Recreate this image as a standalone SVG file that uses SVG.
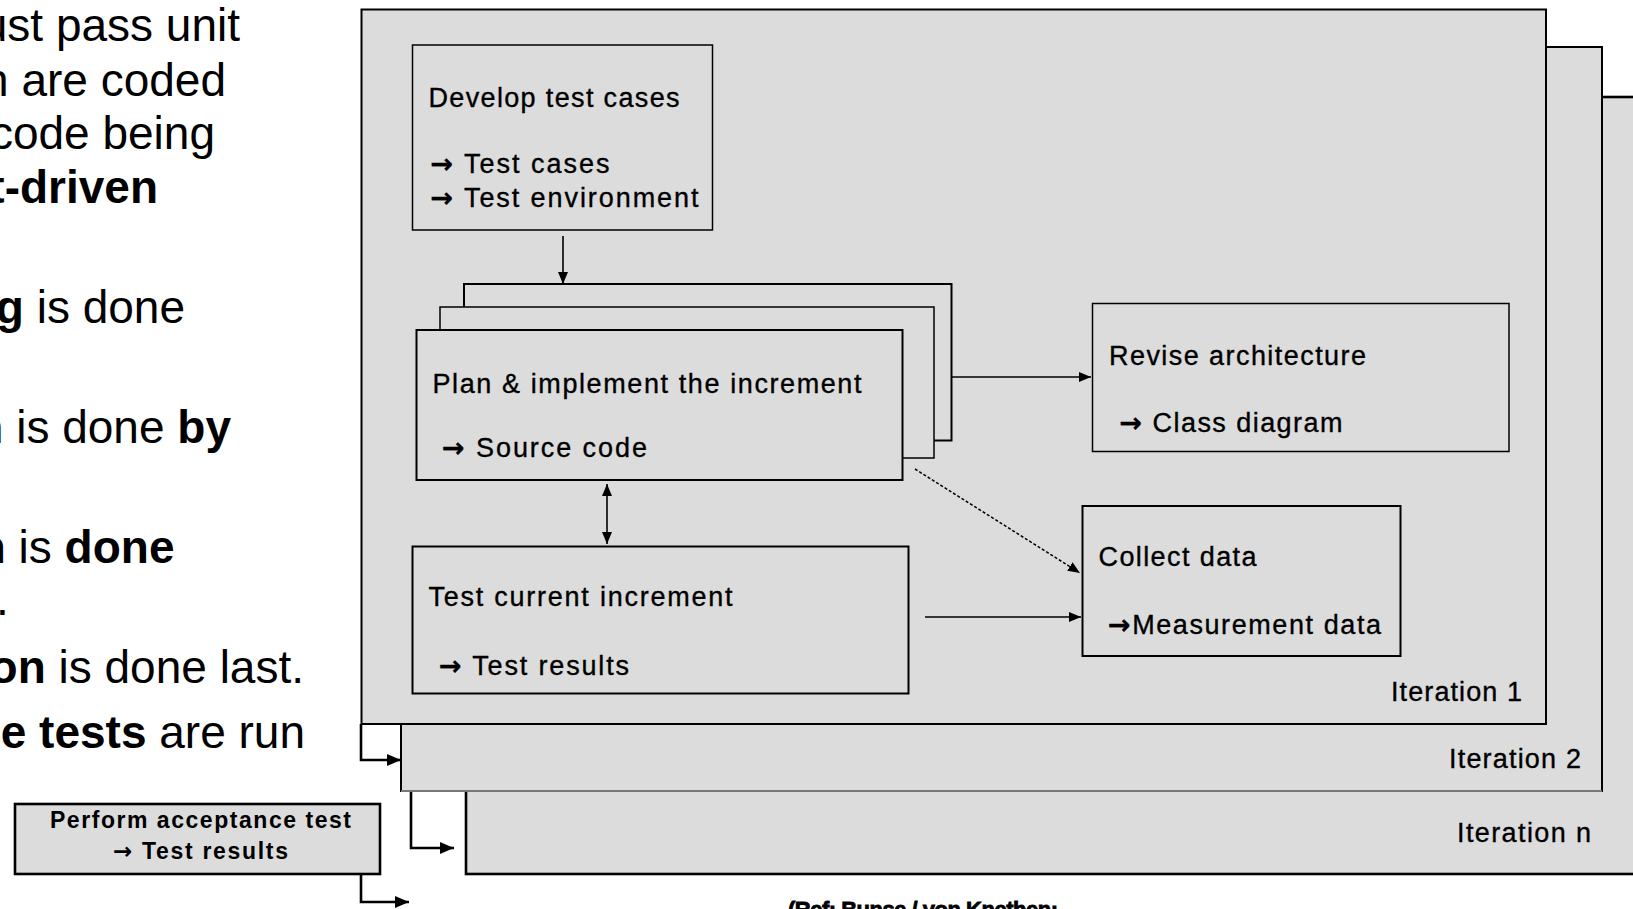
<svg xmlns="http://www.w3.org/2000/svg" width="1633" height="909" viewBox="0 0 1633 909">
  <defs>
    <style>
      .box{fill:#dcdcdc;stroke:#000;stroke-width:2}
      .thin{stroke-width:1.5}
      .lbl{font-family:"Liberation Sans",Arial,"DejaVu Sans",sans-serif;font-size:27px;fill:#000;stroke:#000;stroke-width:0.35}
      .lblb{font-family:"Liberation Sans",Arial,"DejaVu Sans",sans-serif;font-size:23px;font-weight:bold;fill:#000}
      .arw{font-family:"DejaVu Sans",sans-serif;font-weight:bold}
      .bul{font-family:"Liberation Sans",Arial,sans-serif;font-size:46px;fill:#000}
      .b{font-weight:bold}
      .ln{fill:none;stroke:#000;stroke-width:1.6}
      .dot{fill:none;stroke:#000;stroke-width:1.5;stroke-dasharray:3 2}
      .lnk{fill:none;stroke:#000;stroke-width:2.6}
    </style>
    <marker id="ah" markerUnits="userSpaceOnUse" viewBox="0 0 12 10" markerWidth="12" markerHeight="10" refX="12" refY="5" orient="auto-start-reverse">
      <path d="M0,0 L12,5 L0,10 z" fill="#000"/>
    </marker>
    <marker id="ahk" markerUnits="userSpaceOnUse" viewBox="0 0 14 12" markerWidth="14" markerHeight="12" refX="14" refY="6" orient="auto">
      <path d="M0,0 L14,6 L0,12 z" fill="#000"/>
    </marker>
  </defs>

  <rect width="1633" height="909" fill="#fff"/>

  <!-- bullet text, running in from the left edge -->
  <g id="bullets" class="bul" text-anchor="end">
    <text x="240" y="41">ust pass unit</text>
    <text x="226" y="96">n are coded</text>
    <text x="215" y="149">code being</text>
    <text x="158" y="203" class="b">t-driven</text>
    <text x="185" y="323"><tspan class="b">g</tspan> is done</text>
    <text x="231" y="443"><tspan class="b">n</tspan> is done <tspan class="b">by</tspan></text>
    <text x="174.5" y="563"><tspan class="b">n</tspan> is <tspan class="b">done</tspan></text>
    <text x="-4" y="615" text-anchor="start">.</text>
    <text x="304" y="683"><tspan class="b">on</tspan> is done last.</text>
    <text x="305" y="748"><tspan class="b">e tests</tspan> are run</text>
  </g>

  <!-- iteration frames, back to front -->
  <g id="iteration-n">
    <rect class="box" x="466" y="97" width="1200" height="777" style="stroke-width:2.6"/>
    <text class="lbl" x="1457" y="842" textLength="134" lengthAdjust="spacing">Iteration n</text>
  </g>
  <g id="iteration-2">
    <rect class="box" x="401" y="47" width="1201" height="744"/>
    <line x1="401" y1="791" x2="1602" y2="791" stroke="#777" stroke-width="2"/>
    <text class="lbl" x="1449" y="768" textLength="132" lengthAdjust="spacing">Iteration 2</text>
  </g>
  <g id="iteration-1">
    <rect class="box" x="361.5" y="9.5" width="1184.5" height="714.5"/>
    <text class="lbl" x="1391" y="701" textLength="131" lengthAdjust="spacing">Iteration 1</text>
  </g>

  <g id="develop">
    <rect class="box thin" x="412.5" y="45" width="300" height="185"/>
    <text class="lbl" x="428.5" y="107" textLength="251" lengthAdjust="spacing">Develop test cases</text>
    <text class="lbl" x="430.5" y="173" textLength="179" lengthAdjust="spacing"><tspan class="arw">→</tspan> Test cases</text>
    <text class="lbl" x="430.5" y="207" textLength="268" lengthAdjust="spacing"><tspan class="arw">→</tspan> Test environment</text>
  </g>

  <g id="plan-implement">
    <rect class="box" x="464" y="284" width="487.5" height="156.5"/>
    <rect class="box thin" x="440" y="307" width="494" height="151"/>
    <rect class="box" x="416.5" y="330" width="486" height="150"/>
    <text class="lbl" x="432.5" y="393" textLength="429" lengthAdjust="spacing">Plan &amp; implement the increment</text>
    <text class="lbl" x="442" y="457" textLength="205" lengthAdjust="spacing"><tspan class="arw">→</tspan> Source code</text>
  </g>

  <g id="test-increment">
    <rect class="box" x="412.5" y="546.5" width="496" height="147"/>
    <text class="lbl" x="428.5" y="606" textLength="304" lengthAdjust="spacing">Test current increment</text>
    <text class="lbl" x="439" y="675" textLength="190" lengthAdjust="spacing"><tspan class="arw">→</tspan> Test results</text>
  </g>

  <g id="revise-architecture">
    <rect class="box thin" x="1092.5" y="303.5" width="416.5" height="148"/>
    <text class="lbl" x="1109" y="365" textLength="257" lengthAdjust="spacing">Revise architecture</text>
    <text class="lbl" x="1119.5" y="432" textLength="223" lengthAdjust="spacing"><tspan class="arw">→</tspan> Class diagram</text>
  </g>

  <g id="collect-data">
    <rect class="box" x="1082.5" y="506" width="318" height="150"/>
    <text class="lbl" x="1098.5" y="566" textLength="158" lengthAdjust="spacing">Collect data</text>
    <text class="lbl" x="1108" y="634" textLength="273" lengthAdjust="spacing"><tspan class="arw">→</tspan>Measurement data</text>
  </g>

  <g id="acceptance-test">
    <rect class="box" x="15" y="804" width="365" height="70" style="stroke-width:2.6"/>
    <text class="lblb" x="50" y="828" textLength="301" lengthAdjust="spacing">Perform acceptance test</text>
    <text class="lblb" x="113" y="859" textLength="175" lengthAdjust="spacing"><tspan class="arw" font-weight="normal">→</tspan> Test results</text>
  </g>

  <g id="connectors">
    <line class="ln" x1="563" y1="236" x2="563" y2="284" marker-end="url(#ah)"/>
    <line class="ln" x1="952" y1="377" x2="1091" y2="377" marker-end="url(#ah)"/>
    <line class="ln" x1="607" y1="484" x2="607" y2="544" marker-start="url(#ah)" marker-end="url(#ah)"/>
    <line class="dot" x1="915" y1="469" x2="1080" y2="573" marker-end="url(#ah)"/>
    <line class="ln" x1="925" y1="617" x2="1081" y2="617" marker-end="url(#ah)"/>
    <polyline class="lnk" points="361,724 361,760 401,760" marker-end="url(#ahk)"/>
    <polyline class="lnk" points="411,792 411,848 454,848" marker-end="url(#ahk)"/>
    <polyline class="lnk" points="361,873 361,902 409,902" marker-end="url(#ahk)"/>
  </g>

  <text id="source-note" x="788" y="917" textLength="270" lengthAdjust="spacing" font-family="'Liberation Sans',Arial,sans-serif" font-size="22" font-weight="bold" stroke="#000" stroke-width="0.8">(Ref: Bunse / von Knethen:</text>
</svg>
